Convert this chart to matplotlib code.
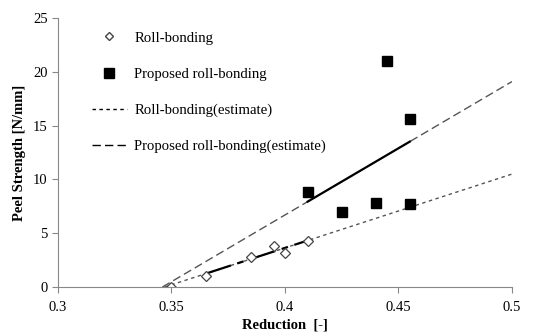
import numpy as np
import matplotlib as mpl
mpl.use('Agg')
import matplotlib.pyplot as plt
from matplotlib.lines import Line2D

mpl.rcParams['font.family'] = 'Liberation Serif'

# measured points
roll_x = [0.35, 0.365, 0.385, 0.395, 0.40, 0.41]
roll_y = [0.0, 1.0, 2.8, 3.8, 3.2, 4.3]
prop_x = [0.41, 0.425, 0.44, 0.445, 0.455, 0.455]
prop_y = [8.8, 7.0, 7.8, 21.0, 15.6, 7.7]

# estimate lines (start / end)
roll_est_x = [0.347, 0.5]
roll_est_y = [0.0, 10.5]
prop_est_x = [0.346, 0.5]
prop_est_y = [0.0, 19.1]

xticks = [0.3, 0.35, 0.4, 0.45, 0.5]
xticklabels = ['0.3', '0.35', '0.4', '0.45', '0.5']
yticks = [0, 5, 10, 15, 20, 25]

fig = plt.figure(figsize=(5.47, 3.32), dpi=100)
ax = fig.add_axes([0.106, 0.1355, 0.83, 0.81])

gray = '#555555'
ax.plot(roll_est_x, roll_est_y, color=gray, lw=1.0, dashes=(2.5, 2.5))
ax.plot(prop_est_x, prop_est_y, color=gray, lw=1.0, dashes=(6, 3))

# solid fitted segments over data range
def on_line(xs, ys, x):
    return ys[0] + (ys[1] - ys[0]) * (x - xs[0]) / (xs[1] - xs[0])

seg = np.array([0.365, 0.41])
ax.plot(seg, on_line(roll_est_x, roll_est_y, seg), color='black', lw=1.6,
        dashes=(12, 3, 3, 3))
seg2 = np.array([0.41, 0.455])
ax.plot(seg2, on_line(prop_est_x, prop_est_y, seg2), color='black', lw=1.6)

ax.plot(roll_x, roll_y, linestyle='none', marker='D', markersize=5.5,
        markerfacecolor='white', markeredgecolor='#444444', markeredgewidth=0.9)
ax.plot(prop_x, prop_y, linestyle='none', marker='s', markersize=7.5,
        color='black')

ax.set_xlim(0.3, 0.5)
ax.set_ylim(0, 25)
ax.set_xticks(xticks)
ax.set_xticklabels(xticklabels)
ax.set_yticks(yticks)
ax.tick_params(labelsize=10.5, length=4, color='#888888', direction='out')
ax.tick_params(axis='x', pad=6)
for s in ['top', 'right']:
    ax.spines[s].set_visible(False)
for s in ['left', 'bottom']:
    ax.spines[s].set_color('#888888')

ax.set_xlabel('Reduction  [-]', fontsize=10.5, fontweight='bold', labelpad=3)
ax.set_ylabel('Peel Strength [N/mm]', fontsize=10.5, fontweight='bold', labelpad=5)

handles = [
    Line2D([], [], linestyle='none', marker='D', markersize=4.5,
           markerfacecolor='white', markeredgecolor='#444444'),
    Line2D([], [], linestyle='none', marker='s', markersize=7, color='black'),
    Line2D([], [], color='black', lw=1.0, dashes=(2.5, 2.5)),
    Line2D([], [], color='black', lw=1.0, dashes=(6, 3)),
]
labels = ['Roll-bonding', 'Proposed roll-bonding',
          'Roll-bonding(estimate)', 'Proposed roll-bonding(estimate)']
ax.legend(handles, labels, loc='upper left', frameon=False, fontsize=10.6,
          handlelength=2.4, handletextpad=0.5, labelspacing=1.55,
          bbox_to_anchor=(0.045, 1.0))

plt.savefig('out.png', dpi=100)
